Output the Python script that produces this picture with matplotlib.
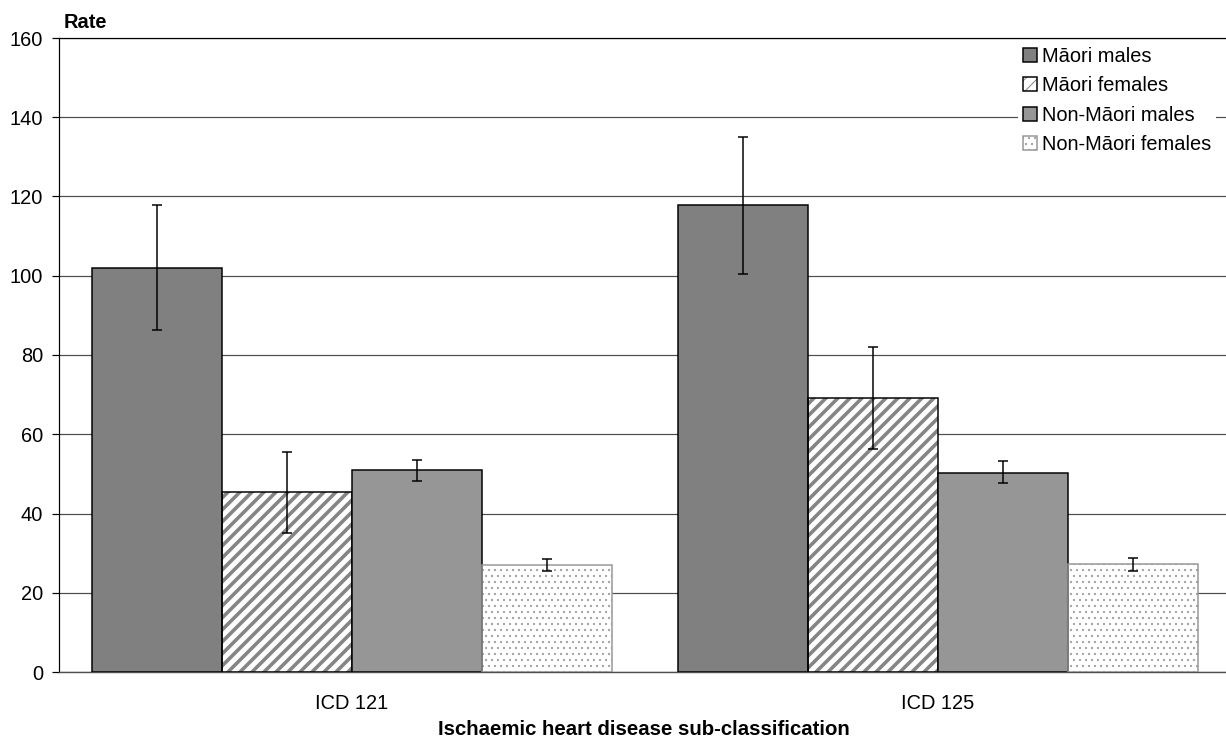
import matplotlib
matplotlib.use('Agg')
import matplotlib.pyplot as plt
from matplotlib.patches import Patch
import numpy as np

# ---------------- data ----------------
categories = ['ICD 121', 'ICD 125']
series_names = ['Māori males', 'Māori females', 'Non-Māori males', 'Non-Māori females']

maori_males = [102.0, 117.8]
maori_males_lo = [86.3, 100.4]
maori_males_hi = [117.8, 135.1]

maori_females = [45.3, 69.2]
maori_females_lo = [35.2, 56.3]
maori_females_hi = [55.6, 82.1]

non_maori_males = [50.9, 50.2]
non_maori_males_lo = [48.1, 47.6]
non_maori_males_hi = [53.6, 53.2]

non_maori_females = [27.0, 27.2]
non_maori_females_lo = [25.4, 25.6]
non_maori_females_hi = [28.6, 28.7]

y_ticks = [0, 20, 40, 60, 80, 100, 120, 140, 160]

values = [maori_males, maori_females, non_maori_males, non_maori_females]
lows = [maori_males_lo, maori_females_lo, non_maori_males_lo, non_maori_females_lo]
highs = [maori_males_hi, maori_females_hi, non_maori_males_hi, non_maori_females_hi]

# ---------------- styles ----------------
styles = [
    dict(face='#808080', hatch=None, hatchcolor=None, edge='black', hlw=1.0),
    dict(face='white', hatch='//', hatchcolor='#858585', edge='black', hlw=3.6),
    dict(face='#969696', hatch=None, hatchcolor=None, edge='black', hlw=1.0),
    dict(face='white', hatch='..', hatchcolor='#a0a0a0', edge='#969696', hlw=1.0),
]

plt.rcParams['font.family'] = ['Liberation Sans', 'DejaVu Sans']
W, H, DPI = 1226, 745, 72
fig = plt.figure(figsize=(W / DPI, H / DPI), dpi=DPI)
ax_left, ax_bottom, ax_top = 59, 672, 38
ax = fig.add_axes([ax_left / W, 1 - ax_bottom / H, (W - ax_left) / W, (ax_bottom - ax_top) / H])

bw = 130 / 586
x = np.arange(len(categories))
legend_handles = []
for i, (vals, lo, hi, st) in enumerate(zip(values, lows, highs, styles)):
    xs = x + (i - 1.5) * bw
    with plt.rc_context({'hatch.linewidth': st['hlw']}):
        if st['hatch']:
            bars_h = ax.bar(xs, vals, bw, color=st['face'], edgecolor=st['hatchcolor'],
                            hatch=st['hatch'], linewidth=0, zorder=2)
            for p in bars_h:
                if hasattr(p, 'set_hatch_linewidth'):
                    p.set_hatch_linewidth(st['hlw'])
            ax.bar(xs, vals, bw, fill=False, edgecolor=st['edge'], linewidth=1.5, zorder=3)
            h1 = Patch(facecolor=st['face'], edgecolor=st['hatchcolor'], hatch=st['hatch'], linewidth=0)
            if hasattr(h1, 'set_hatch_linewidth'):
                h1.set_hatch_linewidth(st['hlw'])
            h2 = Patch(fill=False, edgecolor=st['edge'], linewidth=1.5)
            legend_handles.append((h1, h2))
        else:
            ax.bar(xs, vals, bw, color=st['face'], edgecolor=st['edge'], linewidth=1.5, zorder=3)
            legend_handles.append(Patch(facecolor=st['face'], edgecolor=st['edge'], linewidth=1.5))
    yerr = [np.array(vals) - np.array(lo), np.array(hi) - np.array(vals)]
    ax.errorbar(xs, vals, yerr=yerr, fmt='none', ecolor='black', elinewidth=1.5,
                capsize=5, capthick=1.5, zorder=4)

ax.set_ylim(0, 160)
ax.set_xlim(-0.5, (W - ax_left) / 586 - 0.5)
ax.set_yticks(y_ticks)
ax.set_xticks(x)
ax.set_xticklabels(categories)
ax.tick_params(axis='x', length=0, pad=22, labelsize=20)
ax.tick_params(axis='y', length=7, width=1.2, pad=9, labelsize=20, direction='out')
ax.yaxis.grid(True, color='#4d4d4d', linewidth=1.2, zorder=0)
ax.set_axisbelow(True)
ax.spines['right'].set_visible(False)
ax.spines['top'].set_color('black')
ax.spines['top'].set_linewidth(1.2)
ax.spines['left'].set_color('black')
ax.spines['left'].set_linewidth(1.2)
ax.spines['bottom'].set_color('#4d4d4d')
ax.spines['bottom'].set_linewidth(1.4)

fig.text(64 / W, 1 - 28 / H, 'Rate', fontsize=20, fontweight='bold', ha='left', va='baseline')
fig.text(644 / W, 1 - 735 / H, 'Ischaemic heart disease sub-classification', fontsize=20.4,
         fontweight='bold', ha='center', va='baseline')

leg = fig.legend(legend_handles, series_names, loc='upper left',
                 bbox_to_anchor=(1018 / W, 1 - 42 / H), fontsize=20, frameon=True,
                 facecolor='white', edgecolor='none', framealpha=1, fancybox=False,
                 borderpad=0.25, borderaxespad=0, handlelength=0.7, handleheight=0.7,
                 handletextpad=0.25, labelspacing=0.52)

fig.savefig('out.png', dpi=DPI)
